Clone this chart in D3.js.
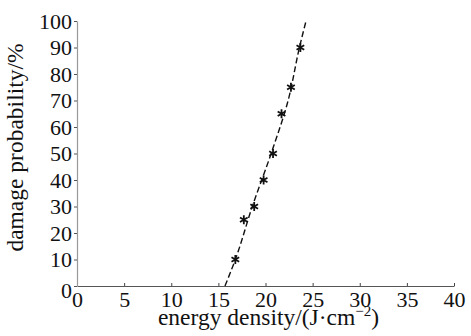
<!DOCTYPE html>
<html>
<head>
<meta charset="utf-8">
<script src="https://cdn.jsdelivr.net/npm/d3@7"></script>
<style>
  body { margin: 0; background: #fff; }
  text { font-family: "Liberation Serif", "DejaVu Serif", serif; fill: #111; }
</style>
</head>
<body>
<svg id="chart" width="471" height="336"></svg>
<script>
// measured points: energy density (J/cm2) vs damage probability (%)
const energy = [16.8, 17.7, 18.8, 19.8, 20.8, 21.7, 22.7, 23.7];
const probability = [10, 25, 30, 40, 50, 65, 75, 90];

// fitted curve (dashed)
const fitEnergy = [15.7, 16.8, 18.6, 20.6, 22.4, 23.6, 24.3];
const fitProb = [0, 10, 30, 50, 70, 90, 100];

const xTicks = [0, 5, 10, 15, 20, 25, 30, 35, 40];
const yTicks = [0, 10, 20, 30, 40, 50, 60, 70, 80, 90, 100];

const xLabel = 'energy density/(J·cm';
const yLabel = 'damage probability/%';

const margin = { left: 77, right: 17, top: 21, bottom: 50 };
const width = 471 - margin.left - margin.right;
const height = 336 - margin.top - margin.bottom;

const svg = d3.select('#chart');
const g = svg.append('g')
  .attr('transform', `translate(${margin.left}, ${margin.top})`);

const xScale = d3.scaleLinear().domain([0, 40]).range([0, width]);
const yScale = d3.scaleLinear().domain([0, 100]).range([height, 0]);

// x axis, ticks pointing up
const xAxis = g.append('g')
  .attr('transform', `translate(0, ${height})`)
  .call(d3.axisBottom(xScale).tickValues(xTicks).tickSizeInner(-3).tickSizeOuter(0).tickPadding(5));
xAxis.select('.domain').attr('stroke', '#555').attr('stroke-width', 1.2);
xAxis.selectAll('.tick line').attr('stroke', '#444');
xAxis.selectAll('.tick text')
  .attr('font-size', 22)
  .attr('fill', '#111')
  .attr('font-family', '"Liberation Serif", serif');

// y axis, ticks pointing left
const yAxis = g.append('g')
  .call(d3.axisLeft(yScale).tickValues(yTicks).tickSizeInner(3).tickSizeOuter(0).tickPadding(2));
yAxis.select('.domain').attr('stroke', '#999').attr('stroke-width', 1.2);
yAxis.selectAll('.tick line').attr('stroke', '#555');
yAxis.selectAll('.tick text')
  .attr('font-size', 22)
  .attr('fill', '#111')
  .attr('font-family', '"Liberation Serif", serif');
// the bottom "0" sits a little low in the original
yAxis.selectAll('.tick text').filter(d => d === 0).attr('dy', '0.5em');

// dashed fit curve
const fit = fitEnergy.map((e, i) => [e, fitProb[i]]);
g.append('path')
  .datum(fit)
  .attr('fill', 'none')
  .attr('stroke', '#111')
  .attr('stroke-width', 1.4)
  .attr('stroke-dasharray', '6,3')
  .attr('d', d3.line()
    .x(d => xScale(d[0]))
    .y(d => yScale(d[1]))
    .curve(d3.curveMonotoneY));

// star markers
const points = energy.map((e, i) => [e, probability[i]]);
g.selectAll('.pt')
  .data(points)
  .join('path')
  .attr('class', 'pt')
  .attr('transform', d => `translate(${xScale(d[0])}, ${yScale(d[1])})`)
  .attr('d', d3.symbol().type(d3.symbolAsterisk).size(55))
  .attr('fill', 'none')
  .attr('stroke', '#111')
  .attr('stroke-width', 1.8);

// axis titles
const xt = svg.append('text')
  .attr('x', margin.left + width / 2 + 3)
  .attr('y', 325)
  .attr('text-anchor', 'middle')
  .attr('font-size', 23.5)
  .text(xLabel);
xt.append('tspan').attr('font-size', 15).attr('dy', -9).text('−2');
xt.append('tspan').attr('dy', 9).text(')');

svg.append('text')
  .attr('transform', `translate(23, ${margin.top + height / 2 - 6}) rotate(-90)`)
  .attr('text-anchor', 'middle')
  .attr('font-size', 23.5)
  .text(yLabel);
</script>
</body>
</html>
